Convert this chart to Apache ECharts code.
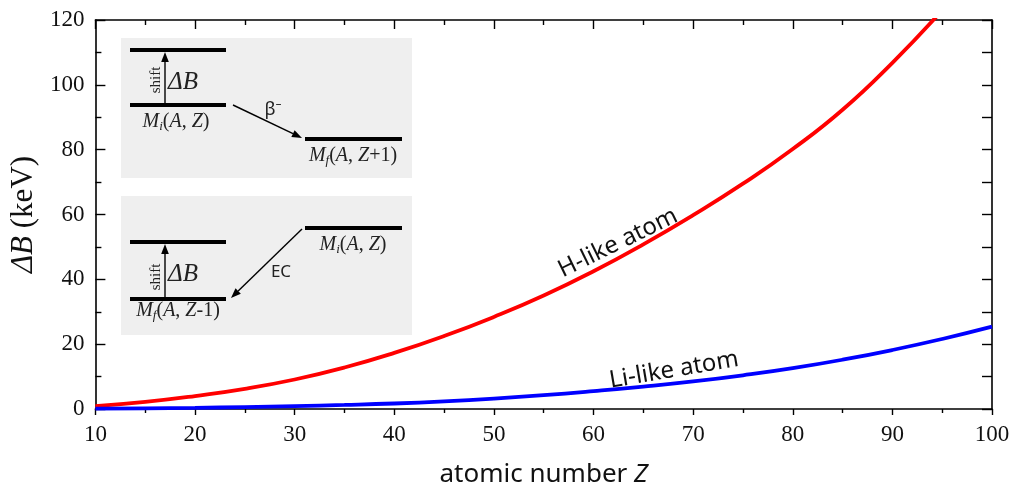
<!DOCTYPE html>
<html>
<head>
<meta charset="utf-8">
<script src="https://cdn.jsdelivr.net/npm/echarts@6/dist/echarts.min.js"></script>
<style>
html,body{margin:0;padding:0;background:#fff;}
#chart{width:1016px;height:493px;}
</style>
</head>
<body>
<div id="chart"></div>
<script>
// ---- data ----
const atomicZ = [10,15,20,25,30,35,40,45,50,55,60,65,70,75,80,85,90,95,100];
const hLike  = [0.9,2.2,4.0,6.2,9.1,12.8,17.3,22.5,28.4,35.0,42.5,50.8,59.8,69.5,80.2,92.3,106.8,123.0,141.0];
const liLike = [0.1,0.2,0.35,0.6,0.9,1.25,1.7,2.35,3.2,4.25,5.5,6.9,8.5,10.4,12.6,15.2,18.2,21.6,25.4];
const xTicks = {min:10, max:100, step:10};
const yTicks = {min:0, max:120, step:20};
const seriesNames = ['H-like atom','Li-like atom'];

const chart = echarts.init(document.getElementById('chart'), null, {renderer:'canvas'});

const SERIF = '"Liberation Serif","DejaVu Serif",serif';
const SANS = '"Noto Sans","Open Sans",sans-serif';

function pairs(ys){ return atomicZ.map((z,i)=>[z, ys[i]]); }

function arrow(x1,y1,x2,y2){
  const a = Math.atan2(y2-y1, x2-x1), L = 10, W = 3.8;
  const bx = x2 - L*Math.cos(a), by = y2 - L*Math.sin(a);
  const px = -Math.sin(a)*W, py = Math.cos(a)*W;
  return [
    {type:'line', shape:{x1:x1,y1:y1,x2:bx,y2:by}, style:{stroke:'#000', lineWidth:1.4}, z:20},
    {type:'polygon', shape:{points:[[x2,y2],[bx+px,by+py],[bx-px,by-py]]}, style:{fill:'#000'}, z:20}
  ];
}
function level(x1,x2,y){
  return {type:'line', shape:{x1:x1,y1:y,x2:x2,y2:y}, style:{stroke:'#000', lineWidth:4}, z:20};
}
const mRich = {
  it:{fontFamily:SERIF, fontStyle:'italic', fontSize:20, lineHeight:22, fill:'#222'},
  n:{fontFamily:SERIF, fontSize:20, lineHeight:22, fill:'#222'},
  sub:{fontFamily:SERIF, fontStyle:'italic', fontSize:13, lineHeight:13, verticalAlign:'bottom', fill:'#222'}
};
function mLabel(x,y,sub,inner){
  return {type:'text', x:x, y:y, z:20,
    style:{text:'{it|M}{sub|'+sub+'}{n|(}{it|A}{n|, }'+inner+'{n|)}', rich:mRich, align:'center', verticalAlign:'middle'}};
}
function shiftText(x,y){
  return {type:'text', x:x, y:y, rotation:Math.PI/2, z:20,
    style:{text:'shift', fontFamily:SERIF, fontSize:15, fill:'#222', align:'center', verticalAlign:'middle'}};
}
function dB(x,y){
  return {type:'text', x:x, y:y, z:20,
    style:{text:'ΔB', fontFamily:SERIF, fontStyle:'italic', fontSize:25, fill:'#222', align:'left', verticalAlign:'middle'}};
}

const graphics = [
  // inset 1 (beta-minus)
  {type:'rect', shape:{x:121,y:38,width:291,height:140}, style:{fill:'#efefef'}, z:10},
  level(130,226,50), level(130,226,105), level(305,402,139),
  ...arrow(165,105,165,52),
  shiftText(156,80), dB(168,82),
  mLabel(176,122,'i','{it|Z}'),
  ...arrow(233,105,302,138),
  {type:'text', x:273, y:110, z:20, style:{text:'β⁻', fontFamily:SANS, fontSize:18, fill:'#222', align:'center', verticalAlign:'middle'}},
  mLabel(353,156,'f','{it|Z}{n|+1}'),
  // inset 2 (electron capture)
  {type:'rect', shape:{x:121,y:196,width:291,height:139}, style:{fill:'#efefef'}, z:10},
  level(305,402,228), level(130,226,242), level(130,226,299),
  ...arrow(165,299,165,244),
  shiftText(156,277), dB(168,274),
  mLabel(353,245,'i','{it|Z}'),
  ...arrow(302,229,231,298),
  {type:'text', x:281, y:272, z:20, style:{text:'EC', fontFamily:SANS, fontSize:17, fill:'#222', align:'center', verticalAlign:'middle'}},
  mLabel(178,311,'f','{it|Z}{n|-1}'),
  // curve labels
  {type:'text', x:618, y:243, rotation:0.455, z:20,
    style:{text:seriesNames[0], fontFamily:SANS, fontSize:24, fill:'#111', align:'center', verticalAlign:'middle'}},
  {type:'text', x:674, y:370, rotation:0.17, z:20,
    style:{text:seriesNames[1], fontFamily:SANS, fontSize:24, fill:'#111', align:'center', verticalAlign:'middle'}}
];

const axisLine = {show:true, onZero:false, lineStyle:{color:'#000', width:1.6}};

chart.setOption({
  animation:false,
  backgroundColor:'#fff',
  grid:{left:93, right:24, top:20, bottom:83, containLabel:false},
  xAxis:[{
    type:'value', min:xTicks.min, max:xTicks.max, interval:xTicks.step, position:'bottom',
    axisLine:axisLine,
    axisTick:{show:true, inside:false, length:6, lineStyle:{color:'#000', width:1.4}},
    minorTick:{show:true, splitNumber:2, length:4, lineStyle:{color:'#000', width:1.4}},
    splitLine:{show:false},
    axisLabel:{margin:14, fontFamily:SERIF, fontSize:23, color:'#111'},
    name:'{n|atomic number }{it|Z}', nameLocation:'middle', nameGap:53,
    nameTextStyle:{rich:{n:{fontFamily:SANS, fontSize:26, color:'#111'}, it:{fontFamily:SANS, fontStyle:'italic', fontSize:26, color:'#111'}}}
  },{
    type:'value', min:xTicks.min, max:xTicks.max, interval:xTicks.step, position:'top',
    axisLine:axisLine,
    axisTick:{show:true, inside:true, length:9, lineStyle:{color:'#000', width:1.4}},
    minorTick:{show:true, splitNumber:2, length:5, lineStyle:{color:'#000', width:1.4}},
    splitLine:{show:false}, axisLabel:{show:false}
  }],
  yAxis:[{
    type:'value', min:yTicks.min, max:yTicks.max, interval:yTicks.step, position:'left',
    axisLine:axisLine,
    axisTick:{show:true, inside:true, length:10, lineStyle:{color:'#000', width:1.4}},
    minorTick:{show:true, splitNumber:2, length:6, lineStyle:{color:'#000', width:1.4}},
    splitLine:{show:false},
    axisLabel:{margin:11, fontFamily:SERIF, fontSize:23, color:'#111'},
    name:'{it|ΔB}{n| (keV)}', nameLocation:'middle', nameGap:48, nameRotate:90,
    nameTextStyle:{rich:{n:{fontFamily:SERIF, fontSize:31, color:'#111'}, it:{fontFamily:SERIF, fontStyle:'italic', fontSize:31, color:'#111'}}}
  },{
    type:'value', min:yTicks.min, max:yTicks.max, interval:yTicks.step, position:'right',
    axisLine:axisLine,
    axisTick:{show:true, inside:true, length:10, lineStyle:{color:'#000', width:1.4}},
    minorTick:{show:true, splitNumber:2, length:10, lineStyle:{color:'#000', width:1.4}},
    splitLine:{show:false}, axisLabel:{show:false}
  }],
  series:[
    {name:seriesNames[0], type:'line', data:pairs(hLike), smooth:0.5, showSymbol:false, clip:true,
     lineStyle:{color:'#ff0000', width:3.8}, itemStyle:{color:'#ff0000'}, z:5},
    {name:seriesNames[1], type:'line', data:pairs(liLike), smooth:0.5, showSymbol:false, clip:true,
     lineStyle:{color:'#0000ff', width:3.8}, itemStyle:{color:'#0000ff'}, z:6}
  ],
  graphic:graphics
});
</script>
</body>
</html>
